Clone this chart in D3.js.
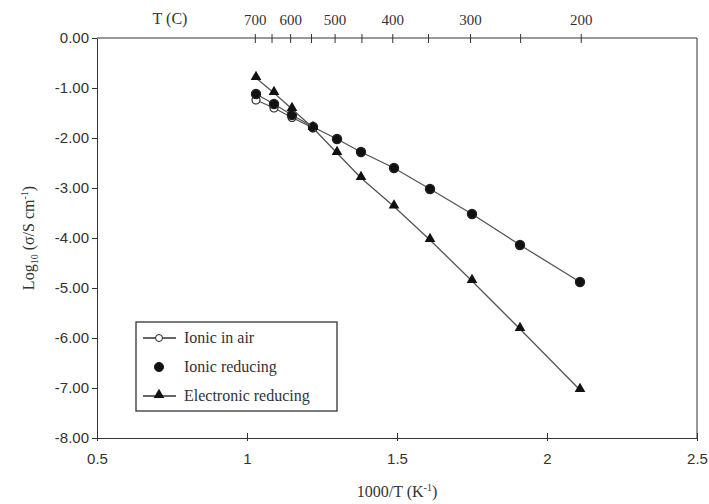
<!DOCTYPE html>
<html>
<head>
<meta charset="utf-8">
<script src="https://cdn.jsdelivr.net/npm/d3@7"></script>
<style>
  body { margin: 0; background: #fff; }
  svg { display: block; font-family: "Liberation Serif", "DejaVu Serif", serif; }
</style>
</head>
<body>
<svg></svg>
<script>
// Chart size and plot box
const width = 709, height = 504;
const margin = {top: 38, right: 12, bottom: 66, left: 97};

// Data
const invT = [1.03, 1.09, 1.15, 1.22, 1.30, 1.38, 1.49, 1.61, 1.75, 1.91, 2.11];
const ionicAir = [-1.24, -1.40, -1.59, -1.80];
const ionicReducing = [-1.12, -1.32, -1.54, -1.78, -2.02, -2.28, -2.60, -3.02, -3.52, -4.14, -4.88];
const electronicReducing = [-0.80, -1.10, -1.42, -1.80, -2.30, -2.80, -3.37, -4.04, -4.86, -5.82, -7.04];

const xTicks = [0.5, 1, 1.5, 2, 2.5];
const yTicks = [0, -1, -2, -3, -4, -5, -6, -7, -8];
const tempTicks = [700, 650, 600, 550, 500, 450, 400, 350, 300, 250, 200];
const tempLabels = [700, 600, 500, 400, 300, 200];

const svg = d3.select('svg')
    .attr('width', width)
    .attr('height', height);

const x = d3.scaleLinear().domain([0.5, 2.5]).range([margin.left, width - margin.right]);
const y = d3.scaleLinear().domain([-8, 0]).range([height - margin.bottom, margin.top]);

const ink = '#333';
// plain hyphen for negative labels, like the original
const fmtY = d => d3.format('.2f')(d).replace('\u2212', '-');

// Bottom axis
const xAxis = svg.append('g')
    .attr('transform', `translate(0,${y(-8)})`)
    .call(d3.axisBottom(x).tickValues(xTicks).tickFormat(d3.format('')).tickSizeInner(-5).tickSizeOuter(0).tickPadding(15));
xAxis.selectAll('.tick line').attr('y2', -5).attr('y1', 3);

// Left axis
const yAxis = svg.append('g')
    .attr('transform', `translate(${x(0.5)},0)`)
    .call(d3.axisLeft(y).tickValues(yTicks).tickFormat(fmtY).tickSize(5).tickSizeOuter(0).tickPadding(3));

// Top axis in degrees C
const xTop = d => x(1000 / (d + 273));
const topAxis = svg.append('g')
    .attr('transform', `translate(0,${y(0)})`);
topAxis.append('line')
    .attr('x1', x(0.5)).attr('x2', x(2.5))
    .attr('stroke', ink);
topAxis.selectAll('line.tk')
    .data(tempTicks)
    .enter().append('line')
    .attr('class', 'tk')
    .attr('x1', d => xTop(d)).attr('x2', d => xTop(d))
    .attr('y1', -4).attr('y2', 5)
    .attr('stroke', ink);
topAxis.selectAll('text')
    .data(tempLabels)
    .enter().append('text')
    .attr('x', d => xTop(d))
    .attr('y', -13)
    .attr('text-anchor', 'middle')
    .text(d => d);

svg.selectAll('.domain').attr('stroke', ink);
svg.selectAll('.tick line').attr('stroke', ink);
svg.selectAll('text')
    .style('font-size', '15px')
    .attr('fill', ink);

topAxis.append('text')
    .attr('x', 170).attr('y', -14)
    .attr('text-anchor', 'middle')
    .style('font-size', '16px')
    .attr('fill', ink)
    .text('T (C)');

// Right frame
svg.append('line')
    .attr('x1', x(2.5)).attr('x2', x(2.5))
    .attr('y1', y(0)).attr('y2', y(-8))
    .attr('stroke', ink);

// Axis titles
svg.append('text')
    .attr('x', (x(0.5) + x(2.5)) / 2)
    .attr('y', 497)
    .attr('text-anchor', 'middle')
    .style('font-size', '16px')
    .attr('fill', ink)
    .html('1000/T (K<tspan dy="-6" font-size="10">-1</tspan><tspan dy="6">)</tspan>');

svg.append('text')
    .attr('transform', `translate(34,${y(-4)}) rotate(-90)`)
    .attr('text-anchor', 'middle')
    .style('font-size', '16px')
    .attr('fill', ink)
    .html('Log<tspan dy="4" font-size="10">10</tspan><tspan dy="-4"> (σ/S cm</tspan><tspan dy="-6" font-size="10">-1</tspan><tspan dy="6">)</tspan>');

// Series lines and markers
const line = d3.line().x(d => x(d[0])).y(d => y(d[1]));
const series = [
    {name: 'Ionic in air', values: ionicAir, symbol: 'open'},
    {name: 'Ionic reducing', values: ionicReducing, symbol: 'circle'},
    {name: 'Electronic reducing', values: electronicReducing, symbol: 'triangle'}
];
const tri = d3.symbol().type(d3.symbolTriangle).size(50);

series.forEach(s => {
    const pts = s.values.map((v, i) => [invT[i], v]);
    svg.append('path')
        .datum(pts)
        .attr('d', line)
        .attr('fill', 'none')
        .attr('stroke', '#555')
        .attr('stroke-width', 1.3);
    const g = svg.append('g');
    if (s.symbol === 'triangle') {
        g.selectAll('path').data(pts).enter().append('path')
            .attr('d', tri)
            .attr('transform', d => `translate(${x(d[0])},${y(d[1]) - 1})`)
            .attr('fill', '#111');
    } else {
        g.selectAll('circle').data(pts).enter().append('circle')
            .attr('cx', d => x(d[0])).attr('cy', d => y(d[1]))
            .attr('r', s.symbol === 'open' ? 4 : 4.6)
            .attr('fill', s.symbol === 'open' ? '#fff' : '#111')
            .attr('stroke', '#222')
            .attr('stroke-width', 1.2);
    }
});

// Legend
const legend = svg.append('g').attr('transform', 'translate(136,322)');
legend.append('rect')
    .attr('width', 201).attr('height', 89)
    .attr('fill', '#fff')
    .attr('stroke', ink)
    .attr('stroke-width', 1.3);
series.forEach((s, i) => {
    const cy = 16 + i * 29;
    if (s.symbol !== 'circle') {
        legend.append('line')
            .attr('x1', 7).attr('x2', 40)
            .attr('y1', cy).attr('y2', cy)
            .attr('stroke', '#333').attr('stroke-width', 1.3);
    }
    if (s.symbol === 'triangle') {
        legend.append('path').attr('d', tri)
            .attr('transform', `translate(23,${cy - 1})`)
            .attr('fill', '#111');
    } else {
        legend.append('circle')
            .attr('cx', 23).attr('cy', cy)
            .attr('r', s.symbol === 'open' ? 3.5 : 4.6)
            .attr('fill', s.symbol === 'open' ? '#fff' : '#111')
            .attr('stroke', '#222');
    }
    legend.append('text')
        .attr('x', 48).attr('y', cy + 5)
        .style('font-size', '16px')
        .attr('fill', ink)
        .text(s.name);
});
</script>
</body>
</html>
